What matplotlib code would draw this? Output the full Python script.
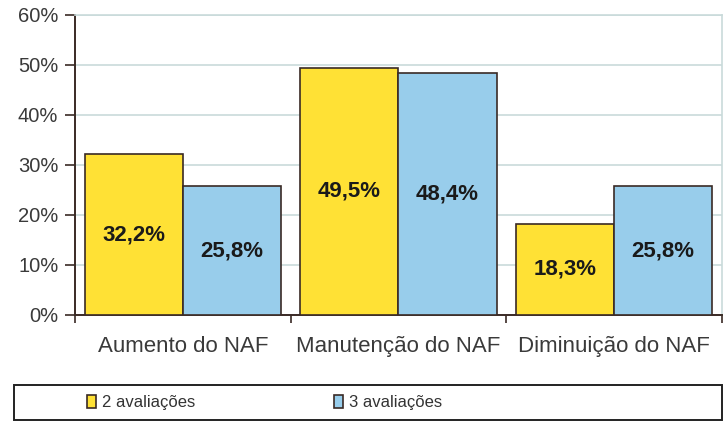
import matplotlib
matplotlib.use("Agg")
import matplotlib.pyplot as plt
import numpy as np
from matplotlib.patches import Rectangle

categories = ["Aumento do NAF", "Manutenção do NAF", "Diminuição do NAF"]
series_names = ["2 avaliações", "3 avaliações"]
vals_2 = [32.2, 49.5, 18.3]
vals_3 = [25.8, 48.4, 25.8]
value_labels_2 = ["32,2%", "49,5%", "18,3%"]
value_labels_3 = ["25,8%", "48,4%", "25,8%"]
yticks = [0, 10, 20, 30, 40, 50, 60]
ytick_labels = ["0%", "10%", "20%", "30%", "40%", "50%", "60%"]

plt.rcParams['font.family'] = ['Liberation Sans', 'DejaVu Sans']

W, H = 728, 430
fig = plt.figure(figsize=(W / 100, H / 100), dpi=100)
fig.patch.set_facecolor("white")
ax = fig.add_axes([75 / W, 1 - 315 / H, (722 - 75) / W, 300 / H])

yellow = "#FFE135"
blue = "#98CDEB"
edge = "#3a2a25"
x = np.arange(len(categories))
w = 0.455
b1 = ax.bar(x - w / 2, vals_2, w, color=yellow, edgecolor=edge, linewidth=1.2,
            label=series_names[0], zorder=3)
b2 = ax.bar(x + w / 2, vals_3, w, color=blue, edgecolor=edge, linewidth=1.2,
            label=series_names[1], zorder=3)

for bars, labs in ((b1, value_labels_2), (b2, value_labels_3)):
    for r, t in zip(bars, labs):
        ax.text(r.get_x() + r.get_width() / 2, r.get_height() / 2, t,
                ha="center", va="center", fontsize=16, fontweight="bold",
                color="#1a1a1a", zorder=4)

ax.set_xlim(-0.5, len(categories) - 0.5)
ax.set_ylim(0, 60)
ax.set_yticks(yticks)
ax.set_yticklabels(ytick_labels, fontsize=14.5, color="#3a3a3a")
ax.set_xticks(x)
ax.set_xticklabels(categories, fontsize=16, color="#3a3a3a")
ax.tick_params(axis="x", which="major", length=0, pad=15)
ax.set_xticks(np.arange(-0.5, len(categories), 1.0), minor=True)
ax.tick_params(axis="x", which="minor", length=6, color=edge, width=1.2)
ax.tick_params(axis="y", length=7, color=edge, width=1.2, pad=5)

ax.yaxis.grid(True, color="#c9dada", linewidth=1.2, zorder=0)
ax.set_axisbelow(True)
for s in ("top", "right"):
    ax.spines[s].set_color("#c9dada")
    ax.spines[s].set_linewidth(1.2)
for s in ("left", "bottom"):
    ax.spines[s].set_color(edge)
    ax.spines[s].set_linewidth(1.4)

# legend box
fig.patches.append(Rectangle((14 / W, 1 - 420 / H), (722 - 14) / W, 35 / H,
                             transform=fig.transFigure, fill=False,
                             edgecolor="#222222", linewidth=1.4))
fig.legend(handles=[b1, b2], labels=series_names, loc="center left",
           bbox_to_anchor=(72 / W, 1 - 402.5 / H), ncol=2, frameon=False,
           fontsize=12, handlelength=0.55, handleheight=0.8,
           handletextpad=0.35, columnspacing=8.3, labelcolor="#333333")

fig.savefig("out.png", dpi=100, facecolor="white")
